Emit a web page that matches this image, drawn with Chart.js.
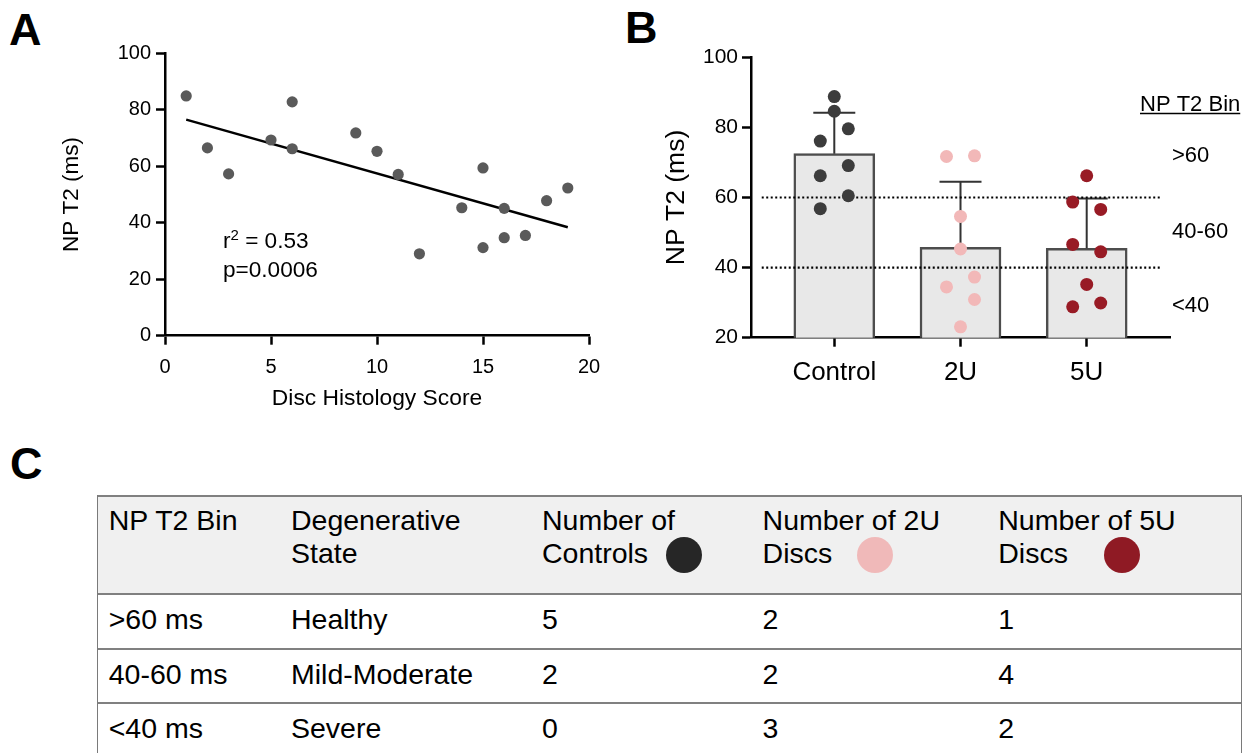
<!DOCTYPE html>
<html><head><meta charset="utf-8">
<script src="https://cdn.jsdelivr.net/npm/chart.js@4"></script>
<style>
html,body{margin:0;padding:0;background:#fff;}
body{width:1252px;height:753px;overflow:hidden;position:relative;font-family:"Liberation Sans",Arial,Helvetica,sans-serif;color:#000;}
.panel{position:absolute;}
.letter{position:absolute;font-weight:bold;font-size:45px;line-height:45px;}
#tbl{position:absolute;left:96.7px;top:495px;width:1145px;border-left:1.5px solid #7a7a7a;border-right:1.5px solid #7a7a7a;box-sizing:border-box;}
.row{display:flex;border-top:2px solid #808080;box-sizing:border-box;position:relative;}
.hdr{height:98px;background:#f0f0f0;}
.brow{height:54.5px;}
.cell{box-sizing:border-box;padding-left:11px;font-size:28.5px;white-space:nowrap;}
.hdr .cell{padding-top:7px;line-height:33px;}
.brow .cell{line-height:48px;}
.dot{position:absolute;width:36px;height:36px;border-radius:50%;}
</style>
</head><body>
<div class="letter" style="left:9px;top:7px;">A</div>
<div class="letter" style="left:625px;top:5px;">B</div>
<div class="letter" style="left:10px;top:441px;">C</div>
<div class="panel" style="left:0;top:0;width:620px;height:420px;"><canvas id="cA"></canvas></div>
<div class="panel" style="left:600px;top:0;width:652px;height:420px;"><canvas id="cB"></canvas></div>
<div id="tbl"></div>
<script>
// ---- Panel A data ----
const scoreA = [1, 2, 3, 5, 6, 6, 9, 10, 11, 12, 14, 15, 15, 16, 16, 17, 18, 19];
const t2A = [84.9, 66.5, 57.3, 69.3, 82.8, 66.2, 71.8, 65.3, 57.1, 29.0, 45.3, 59.4, 31.2, 45.1, 34.7, 35.5, 47.8, 52.3];
const fitX = [1, 19];
const fitY = [76.5, 38.4];
const rSquared = '0.53';
const pValue = '0.0006';

// ---- Panel B data ----
const groupLabels = ['Control', '2U', '5U'];
const groupMeans = [72.5, 45.8, 45.5];
const groupSD = [11.7, 18.7, 14.2];
const controlT2 = [88.8, 84.6, 79.6, 76.1, 69.1, 66.2, 60.5, 56.8];
const u2T2 = [71.7, 71.9, 54.6, 45.3, 37.3, 34.5, 30.9, 23.1];
const u5T2 = [66.2, 58.7, 56.6, 46.6, 44.5, 35.2, 28.8, 29.9];
const controlCol = [0, 0, 1, -1, 1, -1, 1, -1];
const u2Col = [-1, 1, 0, 0, 1, -1, 1, 0];
const u5Col = [0, -1, 1, -1, 1, 0, -1, 1];
const binEdges = [40, 60];
const binLabels = ['>60', '40-60', '<40'];
const binTitle = 'NP T2 Bin';

// ---- Panel C data ----
const tableHeaders = [['NP T2 Bin'], ['Degenerative', 'State'], ['Number of', 'Controls'], ['Number of 2U', 'Discs'], ['Number of 5U', 'Discs']];
const tableBins = ['>60 ms', '40-60 ms', '<40 ms'];
const tableStates = ['Healthy', 'Mild-Moderate', 'Severe'];
const nControls = [5, 2, 0];
const n2U = [2, 2, 3];
const n5U = [1, 4, 2];

const FONT = '"Liberation Sans", Arial, Helvetica, sans-serif';
Chart.defaults.font.family = FONT;
Chart.defaults.color = '#000';

const COL_CTRL = '#3c3c3c', COL_2U = '#f2b8b8', COL_5U = '#981b25';

// ---------- Panel A ----------
const annotA = {
  id: 'annotA',
  afterDraw(c) {
    const ctx = c.ctx, a = c.chartArea;
    ctx.save();
    ctx.fillStyle = '#000';
    ctx.textBaseline = 'alphabetic';
    ctx.textAlign = 'left';
    let x = a.left + 58, y = a.top + 195;
    ctx.font = '22.6px ' + FONT;
    ctx.fillText('r', x, y);
    x += ctx.measureText('r').width;
    ctx.font = '15px ' + FONT;
    ctx.fillText('2', x, y - 8);
    x += ctx.measureText('2').width;
    ctx.font = '22.6px ' + FONT;
    ctx.fillText(' = ' + rSquared, x, y);
    ctx.fillText('p=' + pValue, a.left + 58, y + 28.4);
    ctx.restore();
  }
};

const axisCommon = (fontSize) => ({
  grid: { display: true, drawOnChartArea: false, drawTicks: true, tickLength: 9, tickWidth: 2.5, tickColor: '#000' },
  border: { display: true, color: '#000', width: 2.5 },
  ticks: { font: { size: fontSize }, color: '#000' }
});

new Chart(document.getElementById('cA'), {
  type: 'scatter',
  data: {
    datasets: [
      { type: 'line', data: fitX.map((x, i) => ({ x, y: fitY[i] })), borderColor: '#000', borderWidth: 2.5, pointRadius: 0, fill: false, order: 2 },
      { type: 'scatter', data: scoreA.map((x, i) => ({ x, y: t2A[i] })), backgroundColor: '#5a5a5a', borderWidth: 0, pointRadius: 5.6, order: 1 }
    ]
  },
  options: {
    responsive: true, maintainAspectRatio: false, animation: false, devicePixelRatio: 1,
    layout: { padding: { left: 0, top: 53.3, right: 31, bottom: 0 } },
    plugins: { legend: { display: false }, tooltip: { enabled: false } },
    scales: {
      x: Object.assign(axisCommon(20), {
        type: 'linear', min: 0, max: 20,
        ticks: { stepSize: 5, font: { size: 20 }, color: '#000', padding: 11 },
        title: { display: true, text: 'Disc Histology Score', font: { size: 22.8 }, color: '#000', padding: { top: 0, bottom: 8 } },
        afterFit: s => { s.height = 420 - 335.7; }
      }),
      y: Object.assign(axisCommon(20), {
        type: 'linear', min: 0, max: 100,
        ticks: { stepSize: 20, font: { size: 20 }, color: '#000', padding: 5 },
        title: { display: true, text: 'NP T2 (ms)', font: { size: 22.5 }, color: '#000', padding: { top: 58.2, bottom: 0 } },
        afterFit: s => { s.width = 165; }
      })
    }
  },
  plugins: [annotA]
});

// ---------- Panel B ----------
const JIT = 0.111;
const errB = {
  id: 'errB',
  afterDatasetDraw(c, args) {
    if (args.index !== 0) return;
    const ctx = c.ctx, xs = c.scales.x, ys = c.scales.y;
    ctx.save();
    ctx.strokeStyle = '#333';
    ctx.lineWidth = 2;
    groupMeans.forEach((m, i) => {
      const x = xs.getPixelForValue(i);
      const y0 = ys.getPixelForValue(m);
      const y1 = ys.getPixelForValue(m + groupSD[i]);
      ctx.beginPath();
      ctx.moveTo(x, y0); ctx.lineTo(x, y1);
      ctx.moveTo(x - 21, y1); ctx.lineTo(x + 21, y1);
      ctx.stroke();
    });
    ctx.restore();
  }
};
const binLabelPlugin = {
  id: 'binLabels',
  afterDraw(c) {
    const ctx = c.ctx, a = c.chartArea, ys = c.scales.y;
    ctx.save();
    ctx.fillStyle = '#000';
    ctx.textAlign = 'left';
    ctx.textBaseline = 'middle';
    ctx.font = '22px ' + FONT;
    const tx = a.right - 30, ty = ys.getPixelForValue(86.5);
    ctx.fillText(binTitle, tx, ty);
    const w = ctx.measureText(binTitle).width;
    ctx.strokeStyle = '#000'; ctx.lineWidth = 1.5;
    ctx.beginPath(); ctx.moveTo(tx, ty + 9); ctx.lineTo(tx + w, ty + 9); ctx.stroke();
    const ys2 = [71.9, 50.3, 29.1];
    binLabels.forEach((t, i) => ctx.fillText(t, a.right + 2, ys.getPixelForValue(ys2[i])));
    ctx.restore();
  }
};

const ptsB = (vals, cols, gi, color) => ({
  type: 'scatter', data: vals.map((v, k) => ({ x: gi + cols[k] * JIT, y: v })),
  backgroundColor: color, borderWidth: 0, pointRadius: 6.5, order: 1
});

new Chart(document.getElementById('cB'), {
  type: 'bar',
  data: {
    datasets: [
      { type: 'bar', data: groupMeans.map((m, i) => ({ x: i, y: m })), backgroundColor: '#e8e8e8', borderColor: '#4d4d4d', borderWidth: 2.5, borderSkipped: 'start', barThickness: 81, order: 10 },
      ...binEdges.map(v => ({ type: 'line', data: [{ x: -0.575, y: v }, { x: 2.58, y: v }], borderColor: '#000', borderWidth: 2.2, borderDash: [2, 2.5], pointRadius: 0, fill: false, order: 5 })),
      ptsB(controlT2, controlCol, 0, COL_CTRL),
      ptsB(u2T2, u2Col, 1, COL_2U),
      ptsB(u5T2, u5Col, 2, COL_5U)
    ]
  },
  options: {
    responsive: true, maintainAspectRatio: false, animation: false, devicePixelRatio: 1,
    layout: { padding: { left: 0, top: 57.3, right: 82, bottom: 0 } },
    plugins: { legend: { display: false }, tooltip: { enabled: false } },
    scales: {
      x: {
        type: 'linear', min: -0.66, max: 2.66, offset: false,
        grid: { display: true, offset: false, drawOnChartArea: false, drawTicks: true, tickLength: 9, tickWidth: 2.5, tickColor: '#000' },
        border: { display: true, color: '#000', width: 2.5 },
        afterBuildTicks: s => { s.ticks = groupLabels.map((_, i) => ({ value: i })); },
        ticks: { font: { size: 26 }, color: '#000', padding: 11, autoSkip: false, maxRotation: 0, callback: v => groupLabels[v] },
        afterFit: s => { s.height = 420 - 337.7; }
      },
      y: {
        type: 'linear', min: 20, max: 100, beginAtZero: false,
        grid: { display: true, drawOnChartArea: false, drawTicks: true, tickLength: 9, tickWidth: 2.5, tickColor: '#000' },
        border: { display: true, color: '#000', width: 2.5 },
        ticks: { stepSize: 20, font: { size: 21 }, color: '#000', padding: 4 },
        title: { display: true, text: 'NP T2 (ms)', font: { size: 26.5 }, color: '#000', padding: { top: 61.1, bottom: 0 } },
        afterFit: s => { s.width = 151; }
      }
    }
  },
  plugins: [errB, binLabelPlugin]
});

// ---------- Panel C table ----------
const colW = [182.3, 251, 220.6, 235.7, 252.4];
const dotInfo = { 2: [588, '#262626'], 3: [779, '#f0b9b9'], 4: [1026, '#8f1a24'] };
const tbl = document.getElementById('tbl');
const hdr = document.createElement('div');
hdr.className = 'row hdr';
tableHeaders.forEach((lines, j) => {
  const c = document.createElement('div');
  c.className = 'cell';
  c.style.width = colW[j] + 'px';
  c.innerHTML = lines.join('<br>');
  hdr.appendChild(c);
});
Object.keys(dotInfo).forEach(k => {
  const d = document.createElement('div');
  d.className = 'dot';
  d.style.left = (dotInfo[k][0] - 18 - 1.5) + 'px';
  d.style.top = (59.7 - 18 - 2) + 'px';
  d.style.background = dotInfo[k][1];
  hdr.appendChild(d);
});
tbl.appendChild(hdr);
tableBins.forEach((b, i) => {
  const r = document.createElement('div');
  r.className = 'row brow';
  [b, tableStates[i], nControls[i], n2U[i], n5U[i]].forEach((v, j) => {
    const c = document.createElement('div');
    c.className = 'cell';
    c.style.width = colW[j] + 'px';
    c.textContent = v;
    r.appendChild(c);
  });
  tbl.appendChild(r);
});
</script>
</body></html>
